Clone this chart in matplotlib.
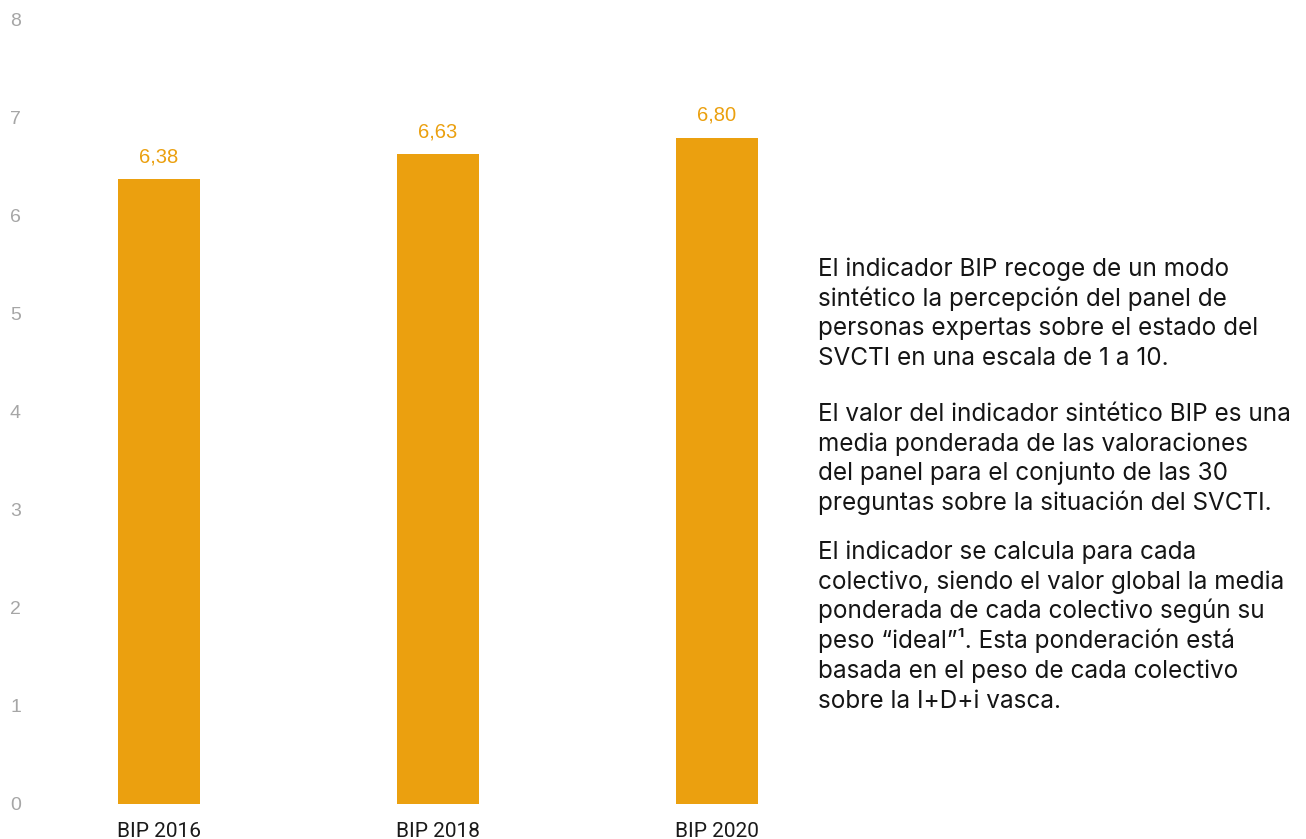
import matplotlib
matplotlib.use("Agg")
import matplotlib.pyplot as plt

# data
categories = ["BIP 2016", "BIP 2018", "BIP 2020"]
values = [6.38, 6.63, 6.80]
value_labels = ["6,38", "6,63", "6,80"]
yticks = [0, 1, 2, 3, 4, 5, 6, 7, 8]

paragraphs = [
    ["El indicador BIP recoge de un modo",
     "sintético la percepción del panel de",
     "personas expertas sobre el estado del",
     "SVCTI en una escala de 1 a 10."],
    ["El valor del indicador sintético BIP es una",
     "media ponderada de las valoraciones",
     "del panel para el conjunto de las 30",
     "preguntas sobre la situación del SVCTI."],
    ["El indicador se calcula para cada",
     "colectivo, siendo el valor global la media",
     "ponderada de cada colectivo según su",
     "peso “ideal”¹. Esta ponderación está",
     "basada en el peso de cada colectivo",
     "sobre la I+D+i vasca."],
]

BAR = "#EBA00F"
W, H = 1306, 839

fig = plt.figure(figsize=(W / 100, H / 100), dpi=100)
# axes placed in pixel terms: left 30px, right 800px, bottom 35px, top 20px
ax = fig.add_axes([30 / W, 35 / H, 770 / W, (804 - 20) / H])

x = list(range(len(categories)))
ax.bar(x, values, width=0.294, color=BAR)
for xi, v, lab in zip(x, values, value_labels):
    ax.annotate(lab, (xi, v), xytext=(0, 12), textcoords="offset points",
                ha="center", va="baseline", color=BAR, fontsize=14.5,
                family="Liberation Sans")

ax.set_ylim(0, 8)
ax.set_xlim((30 - 159) / 279, (800 - 159) / 279)
ax.set_yticks(yticks)
ax.set_yticklabels([str(t) for t in yticks], family="Liberation Sans",
                   fontsize=14, color="#A6A6A6")
ax.set_xticks(x)
ax.set_xticklabels(categories, family="Roboto", fontsize=15, color="#1A1A1A")
ax.tick_params(axis="y", length=0, pad=6.5)
ax.tick_params(axis="x", length=0, pad=13)
for s in ax.spines.values():
    s.set_visible(False)

# explanatory text on the right, one line at a time (baselines in px)
first_baselines = [276, 421, 559]
pitch = 29.7
for start, lines in zip(first_baselines, paragraphs):
    for i, line in enumerate(lines):
        y = start + i * pitch
        fig.text(818 / W, 1 - y / H, line, ha="left", va="baseline",
                 fontsize=17.5, family="Inter", color="#151515")

fig.savefig("out.png", dpi=100)
